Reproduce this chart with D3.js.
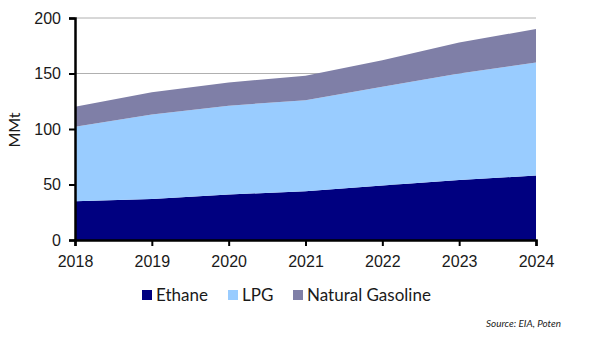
<!DOCTYPE html>
<html><head><meta charset="utf-8">
<script src="https://cdn.jsdelivr.net/npm/d3@7"></script>
<style>body{margin:0;background:#fff}svg{display:block;font-family:Lato,"Open Sans",sans-serif}</style>
</head><body><svg id="c" width="590" height="356"></svg>
<script>
const years = [2018, 2019, 2020, 2021, 2022, 2023, 2024];
const ethane = [35, 37, 41, 44, 49, 54, 58];
const lpg = [67, 76, 80, 82, 89, 96, 102];
const naturalGasoline = [18, 20, 21, 22, 24, 28, 30];
const seriesNames = ["Ethane", "LPG", "Natural Gasoline"];
const colors = ["#000080", "#99ccff", "#7f7fa7"];
const yTicks = [0, 50, 100, 150, 200];

const svg = d3.select("#c");
const x = d3.scaleLinear().domain([2018, 2024]).range([75, 536]);
const y = d3.scaleLinear().domain([0, 200]).range([240, 18]);

const rows = years.map((yr, i) => ({year: yr, Ethane: ethane[i], LPG: lpg[i], "Natural Gasoline": naturalGasoline[i]}));
const stacked = d3.stack().keys(seriesNames)(rows);

// gridlines
svg.append("g").selectAll("line").data(yTicks.slice(1)).join("line")
  .attr("x1", x(2018)).attr("x2", x(2024))
  .attr("y1", d => y(d)).attr("y2", d => y(d))
  .attr("stroke", "#b0b0b0").attr("stroke-width", 1);

const area = d3.area().x(d => x(d.data.year)).y0(d => y(d[0])).y1(d => y(d[1]));
svg.append("g").selectAll("path").data(stacked).join("path")
  .attr("d", area).attr("fill", (d, i) => colors[i]);

// y axis
const yAxis = svg.append("g").attr("transform", `translate(${x(2018)},0)`)
  .call(d3.axisLeft(y).tickValues(yTicks).tickSize(6).tickPadding(8));
yAxis.select(".domain").attr("stroke", "#000").attr("stroke-width", 2.5);
yAxis.selectAll(".tick line").attr("stroke", "#000").attr("stroke-width", 2);
yAxis.selectAll("text").attr("font-size", 16).attr("fill", "#1a1a1a");

// x axis
const xAxis = svg.append("g").attr("transform", `translate(0,${y(0)})`)
  .call(d3.axisBottom(x).tickValues(years).tickFormat(d3.format("d")).tickSize(6).tickPadding(10));
xAxis.select(".domain").attr("stroke", "#000").attr("stroke-width", 2.5);
xAxis.selectAll(".tick line").attr("stroke", "#000").attr("stroke-width", 2);
xAxis.selectAll("text").attr("font-size", 16).attr("fill", "#1a1a1a");

// y label
svg.append("text").attr("transform", "translate(20,130) rotate(-90)")
  .attr("text-anchor", "middle").attr("font-size", 16).attr("fill", "#1a1a1a").text("MMt");

// legend
const legendX = [142, 228, 293];
const lg = svg.append("g").selectAll("g").data(seriesNames).join("g")
  .attr("transform", (d, i) => `translate(${legendX[i]},0)`);
lg.append("rect").attr("x", 0).attr("y", 290).attr("width", 10).attr("height", 10).attr("fill", (d, i) => colors[i]);
lg.append("text").attr("x", 14).attr("y", 301).attr("font-size", 17).attr("fill", "#1a1a1a").text(d => d);

// source
svg.append("text").attr("x", 561).attr("y", 327).attr("text-anchor", "end")
  .attr("font-size", 10).attr("font-style", "italic").attr("fill", "#1a1a1a")
  .attr("textLength", 75).attr("lengthAdjust", "spacingAndGlyphs").text("Source: EIA, Poten");
</script></body></html>
